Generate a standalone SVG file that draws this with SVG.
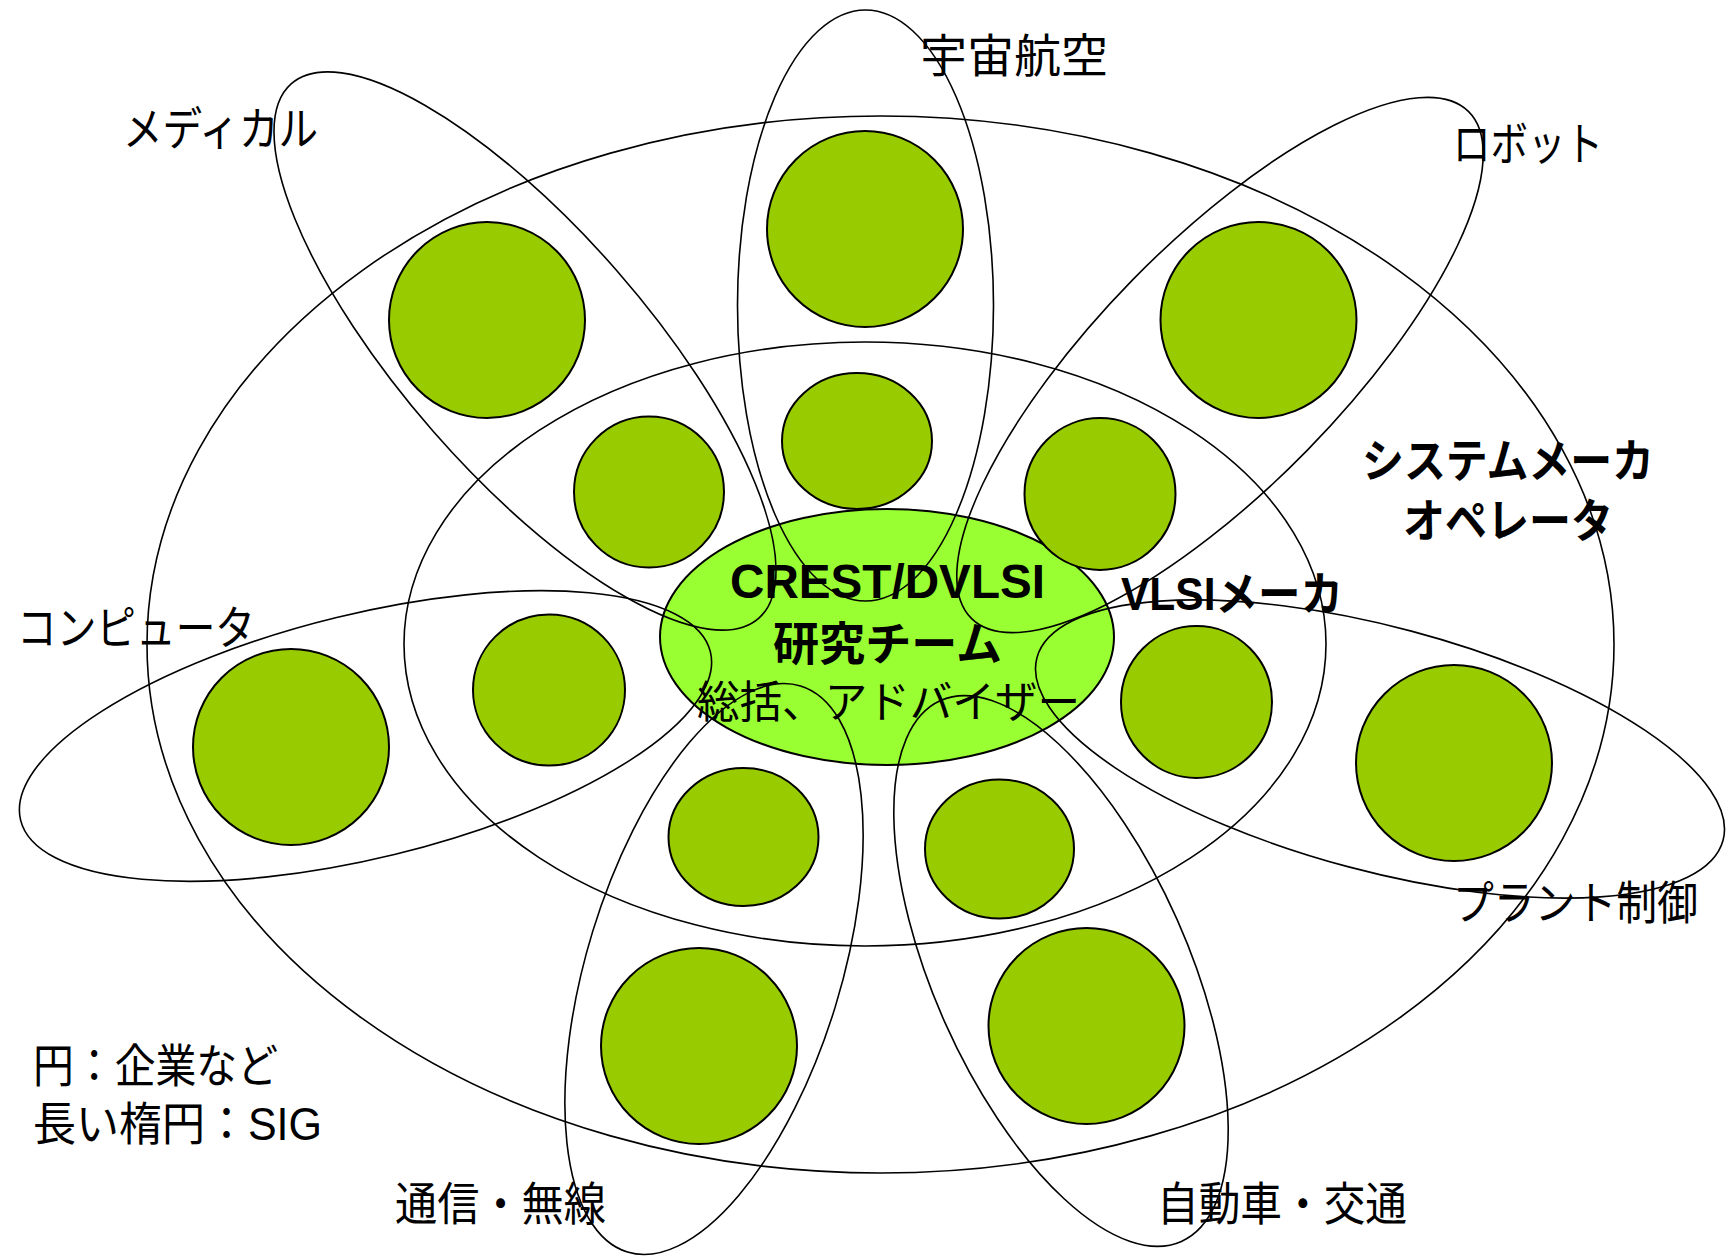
<svg xmlns="http://www.w3.org/2000/svg" width="1731" height="1257" viewBox="0 0 1731 1257">
<style>
.ring{fill:none;stroke:#000;stroke-width:1.6}
.sig{fill:none;stroke:#000;stroke-width:1.6}
.co{fill:#99CC00;stroke:#000;stroke-width:2}
.core{fill:#99FF33;stroke:#000;stroke-width:2}
text{font-family:"Liberation Sans","Noto Sans CJK JP",sans-serif;font-size:46px;fill:#000}
.b{font-weight:bold}
</style>
<rect width="1731" height="1257" fill="#fff"/>
<g id="system-maker"><ellipse class="ring" cx="880.5" cy="644.5" rx="733.5" ry="528.5"/></g>
<g id="vlsi-maker"><ellipse class="ring" cx="865" cy="644" rx="461" ry="302"/></g>
<g id="crest"><ellipse class="core" cx="887" cy="637" rx="227" ry="128"/></g>
<g id="companies">
<circle id="c-space-1" class="co" cx="865" cy="229" r="98"/>
<circle id="c-medical-1" class="co" cx="487" cy="320" r="98"/>
<circle id="c-robot-1" class="co" cx="1258.5" cy="320" r="98"/>
<circle id="c-computer-1" class="co" cx="291" cy="747" r="98"/>
<circle id="c-plant-1" class="co" cx="1454" cy="763" r="98"/>
<circle id="c-comm-1" class="co" cx="699" cy="1046" r="98"/>
<circle id="c-car-1" class="co" cx="1086.5" cy="1026" r="98"/>
<ellipse id="c-space-2" class="co" cx="857" cy="441" rx="75" ry="68"/>
<ellipse id="c-medical-2" class="co" cx="649" cy="492" rx="75" ry="75.5"/>
<ellipse id="c-robot-2" class="co" cx="1100" cy="494" rx="75.5" ry="76"/>
<ellipse id="c-computer-2" class="co" cx="549" cy="690" rx="76" ry="75.5"/>
<ellipse id="c-comm-2" class="co" cx="743.5" cy="837" rx="75" ry="69"/>
<ellipse id="c-car-2" class="co" cx="999.5" cy="849" rx="74.5" ry="69.5"/>
<ellipse id="c-plant-2" class="co" cx="1196.5" cy="702" rx="75.5" ry="76"/>
</g>
<g id="sig-ellipses">
<ellipse id="sig-space" class="sig" cx="865.5" cy="305.5" rx="128" ry="295.5"/>
<ellipse id="sig-medical" class="sig" cx="0" cy="0" rx="355" ry="122" transform="translate(525 351) rotate(48.85)"/>
<ellipse id="sig-robot" class="sig" cx="0" cy="0" rx="355" ry="122" transform="translate(1220 365) rotate(-45.6)"/>
<ellipse id="sig-computer" class="sig" cx="0" cy="0" rx="355" ry="122" transform="translate(365.5 736) rotate(-13.7)"/>
<ellipse id="sig-plant" class="sig" cx="0" cy="0" rx="355" ry="122" transform="translate(1380 749) rotate(14.9)"/>
<ellipse id="sig-comm" class="sig" cx="0" cy="0" rx="296" ry="127" transform="translate(714 969) rotate(-73)"/>
<ellipse id="sig-car" class="sig" cx="0" cy="0" rx="296" ry="127" transform="translate(1061 971) rotate(66)"/>
</g>
<g id="labels">
<text x="730" y="598" class="b" style="font-size:48px" textLength="315" lengthAdjust="spacingAndGlyphs">CREST/DVLSI</text>
<text x="773" y="660" class="b" textLength="229" lengthAdjust="spacingAndGlyphs">研究チーム</text>
<text x="697" y="718" style="font-size:44px" textLength="383" lengthAdjust="spacingAndGlyphs">総括、アドバイザー</text>
<text x="123" y="145" textLength="195" lengthAdjust="spacingAndGlyphs">メディカル</text>
<text x="920" y="72" textLength="188" lengthAdjust="spacingAndGlyphs">宇宙航空</text>
<text x="1453" y="160" textLength="150" lengthAdjust="spacingAndGlyphs">ロボット</text>
<text x="1362" y="477" class="b" textLength="292" lengthAdjust="spacingAndGlyphs">システムメーカ</text>
<text x="1403" y="537" class="b" textLength="210" lengthAdjust="spacingAndGlyphs">オペレータ</text>
<text x="1121" y="610" class="b" textLength="222" lengthAdjust="spacingAndGlyphs">VLSIメーカ</text>
<text x="17" y="644" textLength="238" lengthAdjust="spacingAndGlyphs">コンピュータ</text>
<text x="1453" y="919" textLength="245" lengthAdjust="spacingAndGlyphs">プラント制御</text>
<text x="395" y="1220" textLength="211" lengthAdjust="spacingAndGlyphs">通信・無線</text>
<text x="1157" y="1220" textLength="250" lengthAdjust="spacingAndGlyphs">自動車・交通</text>
<text x="33" y="1082" textLength="245" lengthAdjust="spacingAndGlyphs">円：企業など</text>
<text x="33" y="1140" textLength="289" lengthAdjust="spacingAndGlyphs">長い楕円：SIG</text>
</g>
</svg>
